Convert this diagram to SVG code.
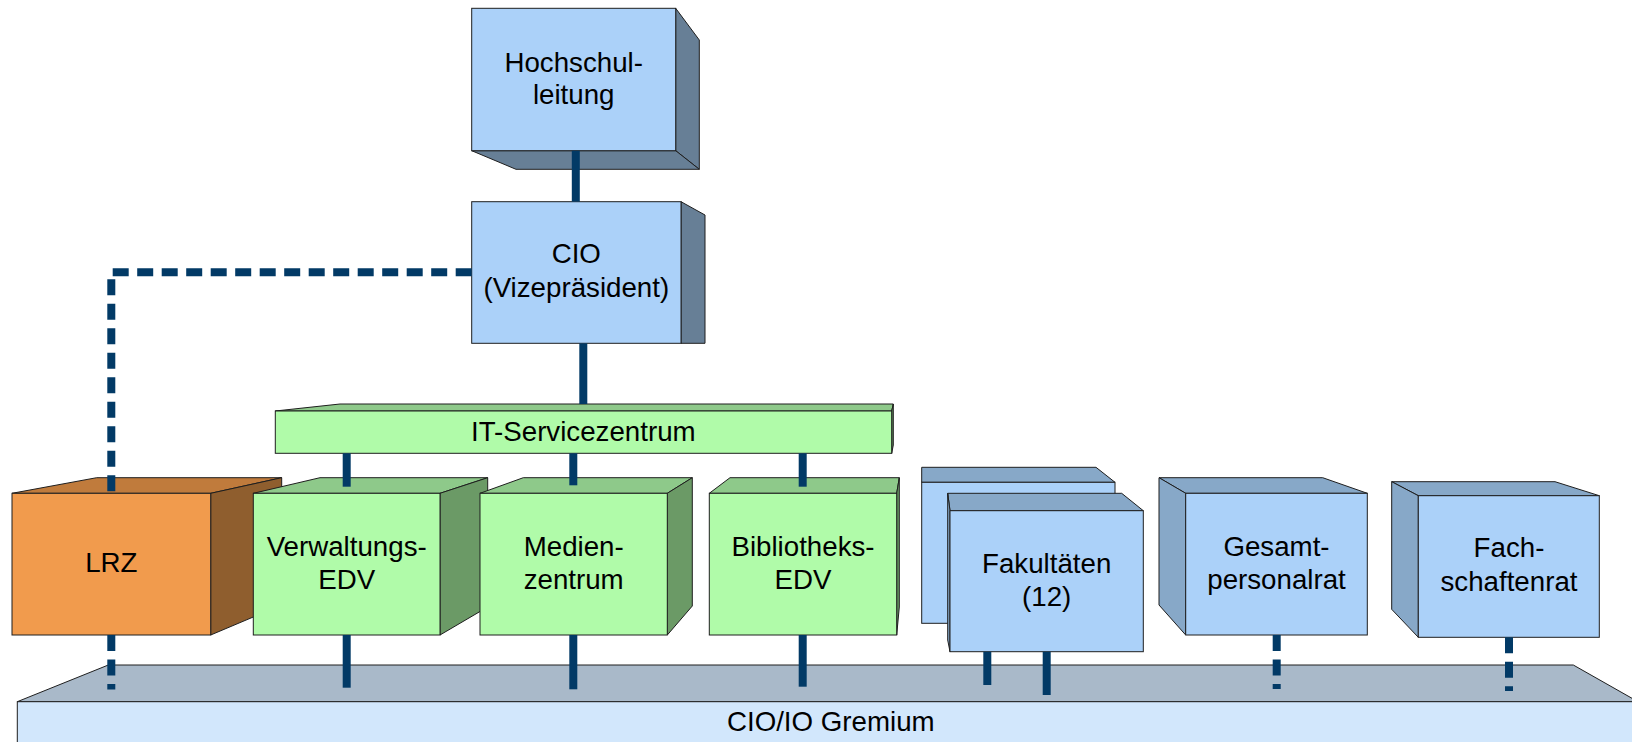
<svg xmlns="http://www.w3.org/2000/svg" width="1632" height="742" viewBox="0 0 1632 742">
<style>
  .o { stroke: #1e1e1e; stroke-width: 1; stroke-linejoin: miter; }
  .bf { fill: #abd1f9; }
  .bd { fill: #677f96; }
  .bm { fill: #87a8c8; }
  .gf { fill: #b0fba9; }
  .gt { fill: #8ec98a; }
  .gs { fill: #6b9a66; }
  .of { fill: #f19b4d; }
  .ot { fill: #c07b3c; }
  .os { fill: #8f5e2e; }
  .pt { fill: #a9b9c9; }
  .pf { fill: #d2e7fc; }
  text { font-family: "Liberation Sans", Arial, sans-serif; font-size: 27.7px; fill: #000; text-anchor: middle; }
  .c { stroke: #023a66; stroke-width: 8; fill: none; stroke-linecap: butt; }
  .d { stroke-dasharray: 16 8.5; }
</style>

<g id="gremium">
  <polygon class="pt o" points="17.3,701.7 108.3,665 1573.3,665 1638,701.7"/>
  <rect class="pf o" x="17.3" y="701.7" width="1630" height="60"/>
  <text x="830.8" y="730.7">CIO/IO Gremium</text>
</g>

<g id="lrz">
  <polygon class="ot o" points="12,493.3 96.7,477.7 281.7,477.7 210.7,493.3"/>
  <polygon class="os o" points="210.7,493.3 281.7,477.7 281.7,605 210.7,635"/>
  <rect class="of o" x="12" y="493.3" width="198.7" height="141.7"/>
  <text x="111.3" y="572.3">LRZ</text>
</g>

<g id="verwaltungs-edv">
  <polygon class="gt o" points="253.3,493.3 320,477.7 487.7,477.7 440,493.3"/>
  <polygon class="gs o" points="440,493.3 487.7,477.7 487.7,607 440,635"/>
  <rect class="gf o" x="253.3" y="493.3" width="186.7" height="141.7"/>
  <text x="346.7" y="555.7">Verwaltungs-</text>
  <text x="346.7" y="589">EDV</text>
</g>

<g id="medienzentrum">
  <polygon class="gt o" points="480,493.3 523.3,477.7 692.3,477.7 667.3,493.3"/>
  <polygon class="gs o" points="667.3,493.3 692.3,477.7 692.3,606 667.3,635"/>
  <rect class="gf o" x="480" y="493.3" width="187.3" height="141.7"/>
  <text x="573.7" y="555.7">Medien-</text>
  <text x="573.7" y="589">zentrum</text>
</g>

<g id="bibliotheks-edv">
  <polygon class="gt o" points="709.3,493.3 730,477.7 899.3,477.7 896.7,493.3"/>
  <polygon class="gs o" points="896.7,493.3 899.3,477.7 899.3,607 896.7,635"/>
  <rect class="gf o" x="709.3" y="493.3" width="187.4" height="141.7"/>
  <text x="803" y="555.7">Bibliotheks-</text>
  <text x="803" y="589">EDV</text>
</g>

<g id="it-servicezentrum">
  <polygon class="gt o" points="275.3,411 340,404 893.3,404 891.7,411"/>
  <polygon class="gs o" points="891.7,411 893.3,404 893.3,445 891.7,453.3"/>
  <rect class="gf o" x="275.3" y="411" width="616.4" height="42.3"/>
  <text x="583.3" y="440.7">IT-Servicezentrum</text>
</g>

<g id="fakultaeten">
  <polygon class="bm o" points="921.7,482.3 921.7,467.3 1096,467.3 1115,482.3"/>
  <rect class="bf o" x="921.7" y="482.3" width="193.3" height="141"/>
  <polygon class="bm o" points="947.7,493.3 1121.7,493.3 1143.3,510.7 950,510.7"/>
  <polygon class="bm o" points="947.7,493.3 950,510.7 950,651.7 947.7,640"/>
  <rect class="bf o" x="950" y="510.7" width="193.3" height="141"/>
  <text x="1046.7" y="572.7">Fakultäten</text>
  <text x="1046.7" y="606">(12)</text>
</g>

<g id="gesamtpersonalrat">
  <polygon class="bm o" points="1159,477.7 1322.7,477.7 1367.3,493.3 1185.7,493.3"/>
  <polygon class="bm o" points="1159,477.7 1185.7,493.3 1185.7,635 1159,605"/>
  <rect class="bf o" x="1185.7" y="493.3" width="181.6" height="141.7"/>
  <text x="1276.5" y="556">Gesamt-</text>
  <text x="1276.5" y="589">personalrat</text>
</g>

<g id="fachschaftenrat">
  <polygon class="bm o" points="1391.7,481.7 1555,481.7 1599.3,495.7 1418.3,495.7"/>
  <polygon class="bm o" points="1391.7,481.7 1418.3,495.7 1418.3,637.3 1391.7,609.3"/>
  <rect class="bf o" x="1418.3" y="495.7" width="181" height="141.6"/>
  <text x="1509" y="557.3">Fach-</text>
  <text x="1509" y="591">schaftenrat</text>
</g>

<g id="hochschulleitung">
  <polygon class="bd o" points="675.7,8.3 699.3,40 699.3,169.3 675.7,150.7"/>
  <polygon class="bd o" points="471.7,150.7 675.7,150.7 699.3,169.3 516,169.3"/>
  <rect class="bf o" x="471.7" y="8.3" width="204" height="142.4"/>
  <text x="573.7" y="71.7">Hochschul-</text>
  <text x="573.7" y="104">leitung</text>
</g>

<g id="cio">
  <polygon class="bd o" points="681,201.7 705,215 705,343.3 681,343.3"/>
  <rect class="bf o" x="471.7" y="201.7" width="209.3" height="141.6"/>
  <text x="576.3" y="263.3">CIO</text>
  <text x="576.3" y="296.7">(Vizepräsident)</text>
</g>

<g id="connectors">
  <line class="c" x1="575.8" y1="150.7" x2="575.8" y2="201.7"/>
  <line class="c" x1="583.3" y1="343.3" x2="583.3" y2="404"/>
  <line class="c" x1="346.7" y1="453.3" x2="346.7" y2="486.7"/>
  <line class="c" x1="573.3" y1="453.3" x2="573.3" y2="485.3"/>
  <line class="c" x1="802.7" y1="453.3" x2="802.7" y2="486.7"/>
  <line class="c" x1="346.7" y1="635" x2="346.7" y2="687.7"/>
  <line class="c" x1="573.3" y1="635" x2="573.3" y2="689.3"/>
  <line class="c" x1="802.7" y1="635" x2="802.7" y2="686.7"/>
  <line class="c" x1="987.3" y1="651.7" x2="987.3" y2="685"/>
  <line class="c" x1="1046.7" y1="651.7" x2="1046.7" y2="695"/>
  <path class="c d" d="M471.7,272.3 H112.7"/>
  <path class="c d" d="M111.3,279.3 V493"/>
  <path class="c d" d="M111.3,635 V689.5"/>
  <path class="c d" d="M1276.7,635 V689"/>
  <path class="c d" d="M1509,637.3 V691"/>
</g>
</svg>
